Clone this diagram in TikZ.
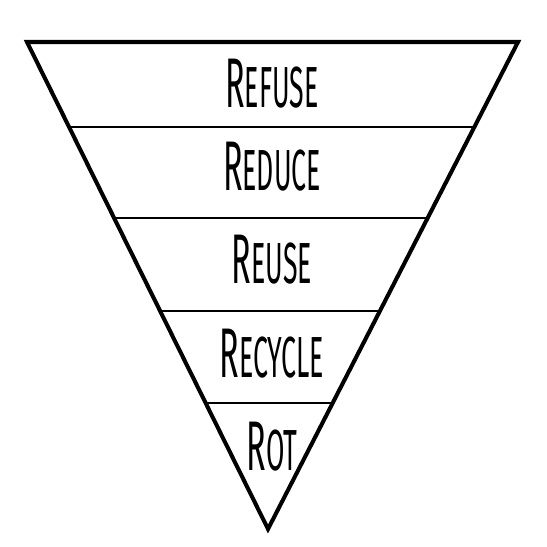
\documentclass[tikz,border=0pt]{standalone}
\usepackage{fontspec}
\setmainfont{Fira Sans}
\usetikzlibrary{calc}

% one unit = one pixel of the 547px picture, y downwards
\newcommand{\wasteword}[2]{\scalebox{0.46}[1]{{\fontsize{40}{40}\selectfont #1}{\fontsize{33}{33}\selectfont #2}}}

\begin{document}
\begin{tikzpicture}[
  x=0.02cm, y=-0.02cm,
  outline/.style={line width=2.3pt, line join=miter},
  band/.style={line width=1.1pt},
  level/.style={inner sep=0pt, anchor=center}
]
  \useasboundingbox (0,0) rectangle (547,547);

  % Triangle corners
  \coordinate (tl) at (27,42);
  \coordinate (tr) at (518,42);
  \coordinate (apex) at (268,529);

  % Band ends on both sides
  \coordinate (l1) at ($(tl)!0.1745!(apex)$);
  \coordinate (r1) at ($(tr)!0.1745!(apex)$);
  \coordinate (l2) at ($(tl)!0.3614!(apex)$);
  \coordinate (r2) at ($(tr)!0.3614!(apex)$);
  \coordinate (l3) at ($(tl)!0.5524!(apex)$);
  \coordinate (r3) at ($(tr)!0.5524!(apex)$);
  \coordinate (l4) at ($(tl)!0.7413!(apex)$);
  \coordinate (r4) at ($(tr)!0.7413!(apex)$);

  \draw[band] (l1) -- (r1);
  \draw[band] (l2) -- (r2);
  \draw[band] (l3) -- (r3);
  \draw[band] (l4) -- (r4);

  \draw[outline] (tl) -- (tr) -- (apex) -- cycle;

  % Labels
  \node[level] (refuse) at (272,84) {\wasteword{R}{EFUSE}};
  \node[level] (reduce) at (272,167) {\wasteword{R}{EDUCE}};
  \node[level] (reuse) at (272,260) {\wasteword{R}{EUSE}};
  \node[level] (recycle) at (272,354) {\wasteword{R}{ECYCLE}};
  \node[level] (rot) at (272,447) {\wasteword{R}{OT}};
\end{tikzpicture}
\end{document}
